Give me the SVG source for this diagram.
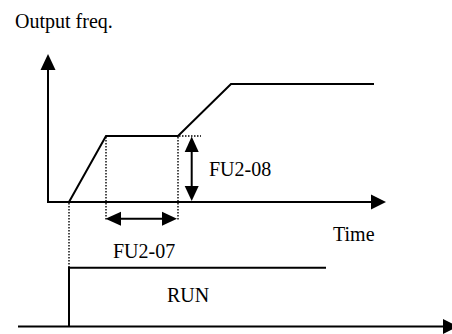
<svg xmlns="http://www.w3.org/2000/svg" width="452" height="334" viewBox="0 0 452 334">
<style>
.ln{stroke:#000;stroke-width:2;fill:none}
.dot{stroke:#000;stroke-width:1.4;stroke-dasharray:1.5 1.5;fill:none}
.ah{fill:#000}
text{font-family:"Liberation Serif","Times New Roman",serif;font-size:20px;fill:#000}
</style>
<rect width="452" height="334" fill="#fff"/>
<g id="connectors">
<line class="dot" x1="69" y1="203" x2="69" y2="267"/>
<line class="dot" x1="106" y1="137" x2="106" y2="221"/>
<line class="dot" x1="178" y1="137" x2="178" y2="221"/>
<line class="dot" x1="179" y1="136" x2="201" y2="136"/>
</g>
<g id="axes">
<line class="ln" x1="48" y1="68" x2="48" y2="202"/>
<polygon class="ah" points="48,54 40.5,70 55.5,70"/>
<line class="ln" x1="47" y1="202" x2="373" y2="202"/>
<polygon class="ah" points="386,202 371,194.5 371,209.5"/>
<line class="ln" x1="18" y1="326.5" x2="445" y2="326.5"/>
<polygon class="ah" points="458,326.5 443,319 443,334"/>
</g>
<g id="freq-curve">
<polyline class="ln" points="69,202 106,136 178,136 231,84 374,84"/>
</g>
<g id="fu2-08">
<line class="ln" x1="191.7" y1="150" x2="191.7" y2="188"/>
<polygon class="ah" points="191.7,136.5 184.7,152 198.7,152"/>
<polygon class="ah" points="191.7,201 184.7,186 198.7,186"/>
<text x="209" y="176">FU2-08</text>
</g>
<g id="fu2-07">
<line class="ln" x1="118" y1="218.7" x2="165" y2="218.7"/>
<polygon class="ah" points="105.5,218.7 121,211.7 121,225.7"/>
<polygon class="ah" points="177,218.7 162,211.7 162,225.7"/>
<text x="113" y="258">FU2-07</text>
</g>
<g id="run">
<polyline class="ln" points="69,326 69,267.7 326,267.7"/>
<text x="167" y="302">RUN</text>
</g>
<g id="labels">
<text x="15" y="28">Output freq.</text>
<text x="333" y="241">Time</text>
</g>
</svg>
